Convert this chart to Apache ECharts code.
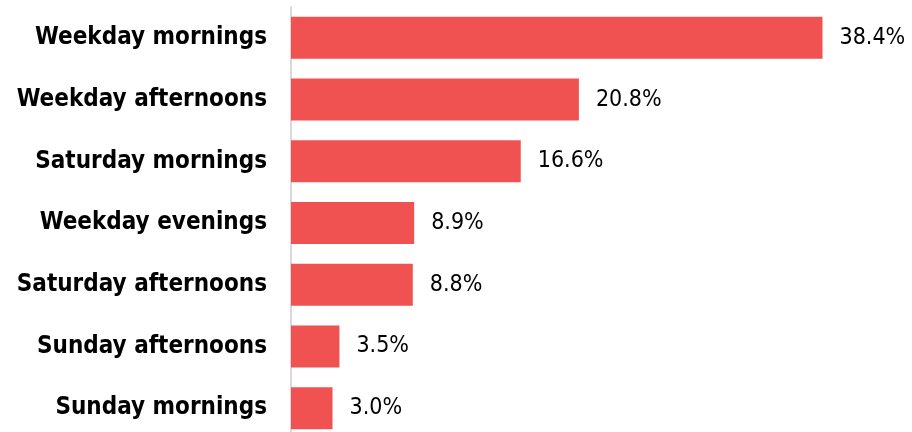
<!DOCTYPE html>
<html>
<head>
<meta charset="utf-8">
<style>html,body{margin:0;padding:0;background:#fff;overflow:hidden}#chart{width:912px;height:440px}</style>
<script src="https://cdn.jsdelivr.net/npm/echarts@6/dist/echarts.min.js"></script>
</head>
<body>
<div id="chart"></div>
<script>
// Share of visits by time slot
const categories = ['Weekday mornings', 'Weekday afternoons', 'Saturday mornings', 'Weekday evenings', 'Saturday afternoons', 'Sunday afternoons', 'Sunday mornings'];
const shares = [38.4, 20.8, 16.6, 8.9, 8.8, 3.5, 3.0];

const chart = echarts.init(document.getElementById('chart'), null, { renderer: 'canvas' });
chart.setOption({
  animation: false,
  grid: { left: 291, top: 7, width: 609, height: 432 },
  xAxis: { type: 'value', min: 0, max: 44, show: false },
  yAxis: {
    type: 'category',
    data: categories,
    inverse: true,
    axisLine: { show: true, lineStyle: { color: '#d9d9d9', width: 2 } },
    axisTick: { show: false },
    axisLabel: {
      margin: 24,
      color: '#000',
      fontFamily: 'DejaVu Sans Condensed',
      fontWeight: 'bold',
      fontSize: 24
    }
  },
  series: [{
    type: 'bar',
    data: shares,
    barWidth: 42,
    itemStyle: { color: '#F05252' },
    label: {
      show: true,
      position: 'right',
      distance: 17,
      color: '#000',
      fontFamily: 'DejaVu Sans Condensed',
      fontSize: 23,
      formatter: p => p.value.toFixed(1) + '%'
    }
  }]
});
</script>
</body>
</html>
